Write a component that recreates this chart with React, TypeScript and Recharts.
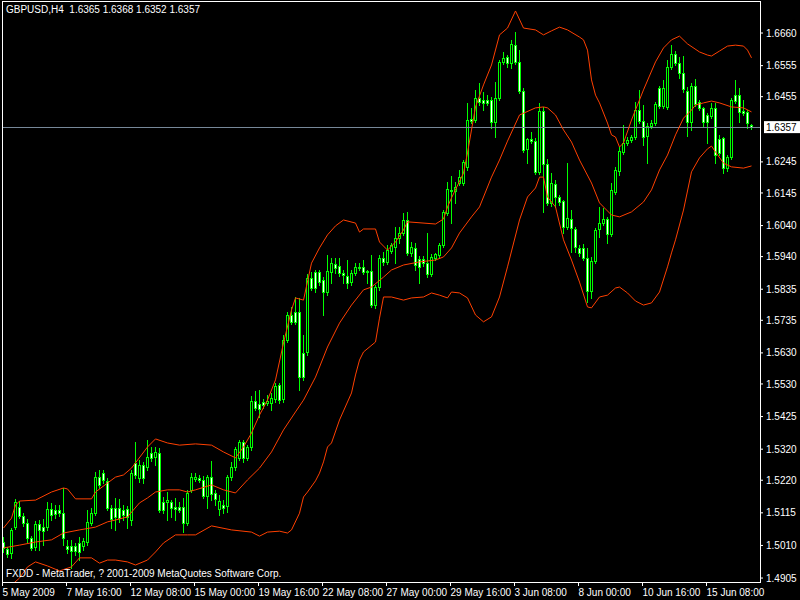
import React from 'react';
import { ComposedChart, Bar, Line, XAxis, YAxis, ReferenceLine } from 'recharts';

// GBPUSD H4, one value per bar (bar 0 = 5 May 2009 00:00)
const opens = [
  1.5021, 1.4999, 1.4986, 1.5069, 1.5134, 1.5105, 1.5082, 1.5034, 1.5005, 1.5079,
  1.5069, 1.5069, 1.5127, 1.5124, 1.5124, 1.5114, 1.5008, 1.5008, 1.5008, 1.5018,
  1.5008, 1.5021, 1.5082, 1.5114, 1.5230, 1.5243, 1.5218, 1.5131, 1.5131, 1.5131,
  1.5124, 1.5127, 1.5092, 1.5275, 1.5227, 1.5269, 1.5263, 1.5308, 1.5295, 1.5308,
  1.5150, 1.5150, 1.5150, 1.5134, 1.5134, 1.5134, 1.5082, 1.5189, 1.5224, 1.5227,
  1.5221, 1.5169, 1.5230, 1.5179, 1.5127, 1.5140, 1.5137, 1.5230, 1.5263, 1.5292,
  1.5343, 1.5292, 1.5327, 1.5475, 1.5465, 1.5472, 1.5469, 1.5469, 1.5482, 1.5527,
  1.5482, 1.5672, 1.5752, 1.5762, 1.5762, 1.5630, 1.5633, 1.5871, 1.5891, 1.5891,
  1.5865, 1.5826, 1.5891, 1.5916, 1.5910, 1.5887, 1.5878, 1.5858, 1.5887, 1.5907,
  1.5907, 1.5894, 1.5894, 1.5784, 1.5842, 1.5936, 1.5923, 1.5958, 1.5971, 1.6000,
  1.6016, 1.6058, 1.5952, 1.5968, 1.5932, 1.5932, 1.5919, 1.5884, 1.5936, 1.5945,
  1.5977, 1.6080, 1.6155, 1.6151, 1.6177, 1.6177, 1.6229, 1.6383, 1.6380, 1.6451,
  1.6444, 1.6444, 1.6444, 1.6373, 1.6451, 1.6567, 1.6583, 1.6563, 1.6621, 1.6567,
  1.6473, 1.6287, 1.6319, 1.6312, 1.6213, 1.6409, 1.6238, 1.6113, 1.6174, 1.6132,
  1.6119, 1.6035, 1.6061, 1.6029, 1.5968, 1.5968, 1.5936, 1.5829, 1.5926, 1.6029,
  1.6048, 1.6061, 1.6013, 1.6148, 1.6216, 1.6277, 1.6306, 1.6316, 1.6325, 1.6412,
  1.6377, 1.6328, 1.6361, 1.6370, 1.6483, 1.6425, 1.6422, 1.6551, 1.6592, 1.6563,
  1.6531, 1.6473, 1.6373, 1.6489, 1.6438, 1.6419, 1.6396, 1.6393, 1.6419, 1.6319,
  1.6322, 1.6225, 1.6261, 1.6460, 1.6460, 1.6409, 1.6406, 1.6365,
];
const highs = [
  1.5037, 1.5005, 1.5066, 1.5160, 1.5153, 1.5114, 1.5095, 1.5040, 1.5089, 1.5092,
  1.5095, 1.5150, 1.5147, 1.5140, 1.5140, 1.5195, 1.5028, 1.5028, 1.5018, 1.5037,
  1.5034, 1.5124, 1.5131, 1.5247, 1.5253, 1.5253, 1.5227, 1.5140, 1.5163, 1.5160,
  1.5140, 1.5137, 1.5253, 1.5343, 1.5285, 1.5279, 1.5350, 1.5327, 1.5327, 1.5324,
  1.5166, 1.5182, 1.5156, 1.5163, 1.5150, 1.5163, 1.5189, 1.5243, 1.5243, 1.5237,
  1.5234, 1.5237, 1.5282, 1.5189, 1.5172, 1.5156, 1.5237, 1.5279, 1.5327, 1.5350,
  1.5350, 1.5333, 1.5491, 1.5507, 1.5511, 1.5482, 1.5494, 1.5501, 1.5533, 1.5533,
  1.5688, 1.5762, 1.5778, 1.5810, 1.5807, 1.5688, 1.5884, 1.5891, 1.5897, 1.5897,
  1.5874, 1.5945, 1.5936, 1.5936, 1.5936, 1.5897, 1.5929, 1.5897, 1.5919, 1.5919,
  1.5929, 1.5897, 1.5945, 1.5849, 1.5945, 1.5955, 1.5977, 1.5984, 1.6035, 1.6035,
  1.6080, 1.6084, 1.5987, 1.5984, 1.5942, 1.5942, 1.6016, 1.5948, 1.5952, 1.5984,
  1.6090, 1.6180, 1.6200, 1.6180, 1.6219, 1.6251, 1.6435, 1.6419, 1.6477, 1.6499,
  1.6470, 1.6460, 1.6454, 1.6502, 1.6573, 1.6599, 1.6589, 1.6638, 1.6663, 1.6605,
  1.6483, 1.6322, 1.6341, 1.6322, 1.6435, 1.6422, 1.6254, 1.6209, 1.6187, 1.6138,
  1.6122, 1.6241, 1.6090, 1.6035, 1.5977, 1.5981, 1.5968, 1.5939, 1.6032, 1.6100,
  1.6097, 1.6068, 1.6177, 1.6229, 1.6293, 1.6364, 1.6325, 1.6332, 1.6438, 1.6477,
  1.6428, 1.6370, 1.6380, 1.6438, 1.6489, 1.6509, 1.6573, 1.6621, 1.6602, 1.6583,
  1.6586, 1.6486, 1.6499, 1.6512, 1.6444, 1.6422, 1.6402, 1.6435, 1.6435, 1.6332,
  1.6325, 1.6267, 1.6451, 1.6509, 1.6483, 1.6444, 1.6412, 1.6368,
];
const lows = [
  1.4989, 1.4973, 1.4970, 1.5063, 1.5098, 1.5073, 1.5021, 1.4995, 1.4995, 1.4995,
  1.5011, 1.5060, 1.5092, 1.5098, 1.5105, 1.5011, 1.4986, 1.4937, 1.4979, 1.4963,
  1.4995, 1.5011, 1.5076, 1.5108, 1.5195, 1.5211, 1.5124, 1.5066, 1.5060, 1.5086,
  1.5092, 1.5066, 1.5076, 1.5227, 1.5214, 1.5211, 1.5253, 1.5282, 1.5269, 1.5118,
  1.5114, 1.5092, 1.5102, 1.5092, 1.5118, 1.5053, 1.5076, 1.5182, 1.5218, 1.5214,
  1.5163, 1.5131, 1.5156, 1.5140, 1.5108, 1.5114, 1.5118, 1.5221, 1.5253, 1.5285,
  1.5279, 1.5285, 1.5317, 1.5446, 1.5424, 1.5453, 1.5462, 1.5446, 1.5472, 1.5469,
  1.5472, 1.5665, 1.5723, 1.5723, 1.5511, 1.5543, 1.5623, 1.5833, 1.5826, 1.5849,
  1.5752, 1.5816, 1.5855, 1.5887, 1.5878, 1.5855, 1.5839, 1.5849, 1.5881, 1.5897,
  1.5884, 1.5855, 1.5778, 1.5775, 1.5833, 1.5913, 1.5916, 1.5952, 1.5919, 1.5984,
  1.6010, 1.5945, 1.5942, 1.5897, 1.5855, 1.5910, 1.5874, 1.5878, 1.5929, 1.5936,
  1.5971, 1.6074, 1.6048, 1.6113, 1.6171, 1.6171, 1.6219, 1.6370, 1.6373, 1.6428,
  1.6412, 1.6428, 1.6354, 1.6325, 1.6444, 1.6560, 1.6551, 1.6547, 1.6560, 1.6467,
  1.6277, 1.6241, 1.6306, 1.6206, 1.6206, 1.6084, 1.6106, 1.6103, 1.6100, 1.6106,
  1.6016, 1.6029, 1.5955, 1.5955, 1.5942, 1.5929, 1.5794, 1.5807, 1.5919, 1.6003,
  1.6042, 1.5984, 1.6006, 1.6142, 1.6203, 1.6270, 1.6299, 1.6309, 1.6319, 1.6370,
  1.6299, 1.6241, 1.6354, 1.6364, 1.6419, 1.6419, 1.6415, 1.6544, 1.6557, 1.6515,
  1.6470, 1.6328, 1.6348, 1.6425, 1.6412, 1.6361, 1.6306, 1.6386, 1.6241, 1.6267,
  1.6209, 1.6216, 1.6254, 1.6435, 1.6373, 1.6396, 1.6354, 1.6352,
];
const closes = [
  1.5002, 1.4982, 1.5060, 1.5150, 1.5105, 1.5082, 1.5034, 1.5002, 1.5079, 1.5060,
  1.5056, 1.5127, 1.5108, 1.5111, 1.5114, 1.5034, 1.4999, 1.4992, 1.4992, 1.4989,
  1.5024, 1.5086, 1.5114, 1.5230, 1.5205, 1.5221, 1.5131, 1.5095, 1.5102, 1.5098,
  1.5108, 1.5102, 1.5243, 1.5237, 1.5269, 1.5227, 1.5295, 1.5292, 1.5311, 1.5124,
  1.5124, 1.5156, 1.5131, 1.5127, 1.5124, 1.5082, 1.5179, 1.5230, 1.5230, 1.5221,
  1.5169, 1.5230, 1.5176, 1.5160, 1.5153, 1.5131, 1.5230, 1.5263, 1.5321, 1.5343,
  1.5292, 1.5327, 1.5475, 1.5453, 1.5449, 1.5462, 1.5475, 1.5485, 1.5523, 1.5478,
  1.5672, 1.5752, 1.5730, 1.5730, 1.5552, 1.5552, 1.5871, 1.5839, 1.5839, 1.5858,
  1.5826, 1.5894, 1.5919, 1.5903, 1.5887, 1.5881, 1.5855, 1.5887, 1.5907, 1.5903,
  1.5891, 1.5891, 1.5784, 1.5842, 1.5936, 1.5923, 1.5961, 1.5977, 1.6000, 1.6016,
  1.6058, 1.5952, 1.5971, 1.5913, 1.5907, 1.5919, 1.5884, 1.5939, 1.5948, 1.5977,
  1.6084, 1.6158, 1.6151, 1.6164, 1.6196, 1.6245, 1.6380, 1.6377, 1.6451, 1.6438,
  1.6435, 1.6435, 1.6373, 1.6451, 1.6567, 1.6580, 1.6563, 1.6625, 1.6567, 1.6473,
  1.6283, 1.6319, 1.6312, 1.6213, 1.6409, 1.6238, 1.6113, 1.6177, 1.6132, 1.6116,
  1.6035, 1.6064, 1.6032, 1.5971, 1.5952, 1.5936, 1.5829, 1.5926, 1.6026, 1.6048,
  1.6061, 1.6013, 1.6155, 1.6219, 1.6280, 1.6306, 1.6316, 1.6325, 1.6412, 1.6377,
  1.6325, 1.6361, 1.6370, 1.6431, 1.6425, 1.6483, 1.6551, 1.6592, 1.6563, 1.6531,
  1.6480, 1.6373, 1.6489, 1.6431, 1.6419, 1.6373, 1.6373, 1.6419, 1.6267, 1.6274,
  1.6225, 1.6261, 1.6444, 1.6441, 1.6406, 1.6402, 1.6370, 1.6357,
];

// Bollinger bands, [bar, price]
const upperBand: [number, number][] = [
  [0, 1.5066], [2, 1.5098], [3, 1.514], [4, 1.5153], [8, 1.5156], [12, 1.5182], [15, 1.5195],
  [16, 1.5192], [18, 1.516], [22, 1.516], [23, 1.5182], [26, 1.5211], [28, 1.523], [30, 1.5237],
  [32, 1.5259], [36, 1.5327], [38, 1.5353], [41, 1.534], [44, 1.5333], [48, 1.5337], [52, 1.5333],
  [55, 1.5311], [58, 1.5292], [60, 1.5327], [62, 1.5372], [64, 1.543], [66, 1.5478], [68, 1.5543],
  [70, 1.5662], [72, 1.5768], [73, 1.5807], [75, 1.58], [77, 1.5919], [79, 1.5968], [81, 1.601],
  [83, 1.6039], [85, 1.6058], [88, 1.6048], [89, 1.6019], [90, 1.6029], [93, 1.6029], [94, 1.5987],
  [96, 1.5961], [98, 1.5987], [100, 1.6026], [101, 1.6052], [108, 1.6045], [110, 1.6061],
  [111, 1.61], [112, 1.6129], [115, 1.6209], [116, 1.6274], [117, 1.6348], [118, 1.6422],
  [120, 1.6493], [122, 1.6557], [124, 1.6654], [126, 1.6676], [128, 1.6731], [130, 1.6676],
  [133, 1.667], [135, 1.6654], [137, 1.6667], [139, 1.6679], [141, 1.667], [144, 1.6647],
  [145, 1.6638], [146, 1.6605], [147, 1.6509], [148, 1.646], [149, 1.6435], [151, 1.637],
  [152, 1.6332], [153, 1.6325], [154, 1.6293], [155, 1.6306], [157, 1.638], [160, 1.6477],
  [163, 1.6567], [165, 1.6612], [167, 1.6638], [169, 1.665], [171, 1.6625], [174, 1.6599],
  [176, 1.6589], [177, 1.6586], [179, 1.6602], [181, 1.6618], [183, 1.6621], [185, 1.6618],
  [186, 1.6605], [187, 1.658],
];
const middleBand: [number, number][] = [
  [0, 1.5002], [4, 1.5011], [8, 1.5021], [12, 1.5028], [15, 1.505], [19, 1.506], [23, 1.5069],
  [26, 1.5086], [28, 1.5092], [31, 1.5102], [34, 1.5147], [36, 1.5163], [38, 1.5182], [41, 1.5189],
  [44, 1.5189], [46, 1.5182], [48, 1.5189], [52, 1.5205], [55, 1.5189], [58, 1.5179], [61, 1.5221],
  [64, 1.5259], [67, 1.5311], [70, 1.5382], [73, 1.544], [75, 1.5478], [78, 1.5552], [81, 1.5649],
  [84, 1.5726], [87, 1.5784], [90, 1.5833], [92, 1.5842], [95, 1.5874], [97, 1.5897], [100, 1.5913],
  [104, 1.5923], [108, 1.5929], [110, 1.5939], [112, 1.5968], [114, 1.6016], [117, 1.6068],
  [119, 1.61], [122, 1.6196], [124, 1.6251], [126, 1.6312], [129, 1.6396], [133, 1.6419],
  [135, 1.6422], [136, 1.6419], [138, 1.6396], [140, 1.6348], [142, 1.6309], [144, 1.6251],
  [147, 1.6177], [149, 1.6113], [152, 1.6074], [154, 1.6068], [157, 1.6084], [160, 1.6116],
  [162, 1.6155], [164, 1.6219], [166, 1.6267], [168, 1.6332], [170, 1.6386], [172, 1.6412],
  [173, 1.6428], [175, 1.6435], [177, 1.6441], [179, 1.6435], [182, 1.6422], [185, 1.6419],
  [187, 1.6406],
];
const lowerBand: [number, number][] = [
  [0, 1.486], [4, 1.4905], [6, 1.4941], [8, 1.4957], [11, 1.4944], [14, 1.4928], [17, 1.4941],
  [19, 1.497], [22, 1.497], [24, 1.4953], [26, 1.4963], [28, 1.4963], [31, 1.4957], [33, 1.4947],
  [36, 1.4963], [38, 1.4989], [40, 1.5018], [43, 1.5044], [46, 1.5044], [48, 1.5044], [52, 1.5073],
  [57, 1.506], [62, 1.5053], [64, 1.504], [66, 1.5053], [69, 1.5056], [71, 1.505], [72, 1.506],
  [74, 1.5114], [75, 1.5166], [76, 1.5182], [78, 1.5218], [79, 1.5243], [80, 1.5279], [81, 1.5327],
  [82, 1.534], [84, 1.5414], [87, 1.5501], [88, 1.5559], [89, 1.5607], [90, 1.5633], [93, 1.5665],
  [94, 1.5742], [95, 1.581], [97, 1.581], [100, 1.58], [102, 1.5807], [105, 1.581], [107, 1.5823],
  [109, 1.5816], [111, 1.5807], [112, 1.5826], [114, 1.5823], [116, 1.5807], [118, 1.5752],
  [120, 1.573], [122, 1.5746], [124, 1.581], [126, 1.5907], [129, 1.6058], [131, 1.6132],
  [133, 1.6161], [134, 1.6196], [135, 1.6196], [136, 1.6132], [138, 1.61], [140, 1.5994],
  [142, 1.5929], [144, 1.5858], [146, 1.5778], [147, 1.5775], [149, 1.581], [151, 1.5816],
  [153, 1.5839], [154, 1.5842], [156, 1.5823], [158, 1.5797], [160, 1.5784], [162, 1.5791],
  [164, 1.5826], [166, 1.5907], [167, 1.5952], [168, 1.5994], [170, 1.609], [172, 1.6213],
  [174, 1.6258], [176, 1.6287], [177, 1.6296], [178, 1.6277], [180, 1.6241], [182, 1.6229],
  [185, 1.6225], [187, 1.6232],
];

const priceTicks = [
  1.666, 1.6555, 1.6455, 1.6245, 1.6145, 1.604, 1.594, 1.5835, 1.5735,
  1.563, 1.553, 1.5425, 1.532, 1.522, 1.5115, 1.501, 1.4905,
];
const timeTickBars = [0, 16, 32, 48, 64, 80, 96, 112, 128, 144, 160, 176];
const timeTickLabels = [
  '5 May 2009', '7 May 16:00', '12 May 08:00', '15 May 00:00', '19 May 16:00', '22 May 08:00',
  '27 May 00:00', '29 May 16:00', '3 Jun 08:00', '8 Jun 00:00', '10 Jun 16:00', '15 Jun 08:00',
];

const title = 'GBPUSD,H4  1.6365 1.6368 1.6352 1.6357';
const footer = 'FXDD - MetaTrader, ? 2001-2009 MetaQuotes Software Corp.';
const bid = 1.6357;

const FONT = '"Liberation Sans", Arial, sans-serif';
const GREEN = '#00ff00';
const BAND = '#ff4000';
const X_MIN = -0.375;
const X_MAX = 189.125;
const Y_MIN = 1.48923;
const Y_MAX = 1.67631;

const rows: any[] = opens.map((o, i) => ({
  i, o, h: highs[i], l: lows[i], c: closes[i], range: [lows[i], highs[i]],
}));
upperBand.forEach(([i, v]) => { rows[i].up = v; });
middleBand.forEach(([i, v]) => { rows[i].mid = v; });
lowerBand.forEach(([i, v]) => { rows[i].low = v; });

// draws one candle inside the high-low range box recharts gives us
const Candle = (props: any) => {
  const { x, y, width, height, payload } = props;
  const { o, h, l, c } = payload;
  const cx = Math.floor(x + width / 2) + 0.5;
  const toY = (p: number) => (h === l ? y : y + ((h - p) / (h - l)) * height);
  const yH = Math.round(y);
  const yL = Math.round(y + height);
  const yO = Math.round(toY(o));
  const yC = Math.round(toY(c));
  const top = Math.min(yO, yC);
  const bot = Math.max(yO, yC);
  return (
    <g shapeRendering="crispEdges">
      <line x1={cx} x2={cx} y1={yH} y2={yL + 1} stroke={GREEN} />
      {bot - top < 1 ? (
        <line x1={cx - 1.5} x2={cx + 1.5} y1={top + 0.5} y2={top + 0.5} stroke={GREEN} />
      ) : (
        <rect x={cx - 1} y={top + 0.5} width={2} height={bot - top}
          fill={c < o ? '#ffffff' : '#000000'} stroke={GREEN} />
      )}
    </g>
  );
};

const TimeTick = (props: any) => {
  const { x, y, payload } = props;
  const k = timeTickBars.indexOf(payload.value);
  return (
    <g>
      <line x1={x - 1} x2={x - 1} y1={y} y2={y + 4} stroke="#fff" shapeRendering="crispEdges" />
      <text x={x - 1} y={y + 14} fill="#fff" fontSize={10} fontFamily={FONT}>
        {timeTickLabels[k]}
      </text>
    </g>
  );
};

const BidTag = (props: any) => {
  const vb = props.viewBox || {};
  const right = vb.x + vb.width;
  const cy = vb.y;
  return (
    <g>
      <rect x={right + 4} y={cy - 6} width={36} height={12} fill="#fff" />
      <text x={right + 6} y={cy + 4} fill="#000" fontSize={10} fontFamily={FONT}>
        {bid.toFixed(4)}
      </text>
    </g>
  );
};

export default function App() {
  return (
    <div style={{ position: 'absolute', left: 0, top: 0, width: 800, height: 600, background: '#000' }}>
      <ComposedChart width={800} height={600} data={rows}
        margin={{ top: 1, right: 0, bottom: 0, left: 2 }}>
        <XAxis dataKey="i" type="number" domain={[X_MIN, X_MAX]} allowDataOverflow
          ticks={timeTickBars} interval={0} height={18}
          axisLine={{ stroke: '#fff', shapeRendering: 'crispEdges' }}
          tickLine={false} tickSize={0} tickMargin={0} tick={<TimeTick />} />
        <YAxis orientation="right" type="number" domain={[Y_MIN, Y_MAX]} allowDataOverflow
          ticks={priceTicks} interval={0} width={40}
          axisLine={{ stroke: '#fff', shapeRendering: 'crispEdges' }}
          tickSize={3} tickMargin={3} tickLine={{ stroke: '#fff' }}
          tick={{ fill: '#fff', fontSize: 10, fontFamily: FONT }}
          tickFormatter={(v: number) => v.toFixed(4)} />
        <ReferenceLine y={bid} stroke="#778899" shapeRendering="crispEdges"
          label={<BidTag />} />
        <Line dataKey="up" type="linear" stroke={BAND} strokeWidth={1} dot={false}
          connectNulls isAnimationActive={false} />
        <Line dataKey="mid" type="linear" stroke={BAND} strokeWidth={1} dot={false}
          connectNulls isAnimationActive={false} />
        <Line dataKey="low" type="linear" stroke={BAND} strokeWidth={1} dot={false}
          connectNulls isAnimationActive={false} />
        <Bar dataKey="range" barSize={3} shape={<Candle />} isAnimationActive={false} />
      </ComposedChart>
      <div style={{ position: 'absolute', left: 2, top: 1, width: 757, height: 580,
        border: '1px solid #fff', pointerEvents: 'none' }} />
      <div style={{ position: 'absolute', left: 6, top: 5, color: '#fff', fontSize: 10,
        lineHeight: '10px', fontFamily: FONT, whiteSpace: 'pre' }}>{title}</div>
      <div style={{ position: 'absolute', left: 6, top: 569, color: '#fff', fontSize: 10,
        lineHeight: '10px', fontFamily: FONT, whiteSpace: 'pre' }}>{footer}</div>
    </div>
  );
}
